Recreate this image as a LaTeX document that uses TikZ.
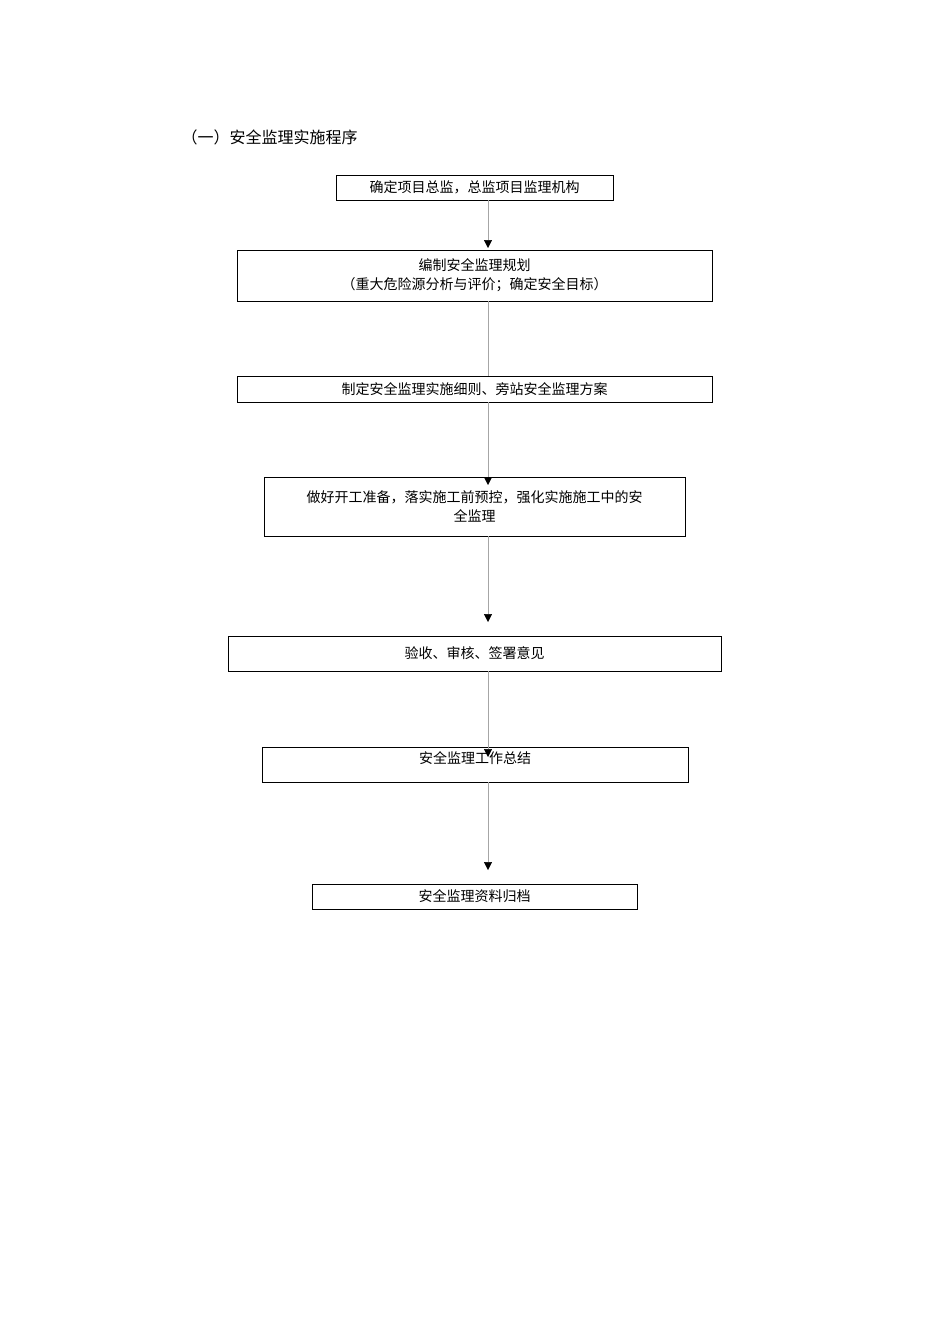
\documentclass[tikz,border=0pt]{standalone}
\usepackage{fontspec}
\setmainfont{Noto Sans CJK SC}
\usetikzlibrary{arrows.meta}
\begin{document}
\begin{tikzpicture}[x=1pt,y=-1pt,
  bx/.style={draw,line width=0.6pt,inner sep=0pt,font=\fontsize{14}{19}\selectfont,align=center},
  conn/.style={draw=gray!70,line width=0.5pt,-{Triangle[black,length=8pt,width=8pt]}},
  plain/.style={draw=gray!70,line width=0.5pt}]
\useasboundingbox (0,0) rectangle (950,1344);
\node[anchor=west,font=\fontsize{16}{19}\selectfont] (title) at (178,137) {（一）安全监理实施程序};
\node[bx,minimum width=277pt,minimum height=25pt] (b1) at (474.5,187.5) {确定项目总监，总监项目监理机构};
\node[bx,minimum width=475pt,minimum height=51pt] (b2) at (474.5,275.5) {编制安全监理规划\\（重大危险源分析与评价；确定安全目标）};
\node[bx,minimum width=475pt,minimum height=26pt] (b3) at (474.5,389) {制定安全监理实施细则、旁站安全监理方案};
\node[bx,minimum width=421pt,minimum height=59pt] (b4) at (474.5,506.5) {做好开工准备，落实施工前预控，强化实施施工中的安\\全监理};
\node[bx,minimum width=493pt,minimum height=35pt] (b5) at (474.5,653.5) {验收、审核、签署意见};
\node[bx,minimum width=426pt,minimum height=35pt,text depth=14pt] (b6) at (475,764.5) {安全监理工作总结};
\node[bx,minimum width=325pt,minimum height=25pt] (b7) at (474.5,896.5) {安全监理资料归档};
\coordinate (s1) at (488,200); \coordinate (e1) at (488,248);
\coordinate (s2) at (488,301); \coordinate (e2) at (488,376);
\coordinate (s3) at (488,402); \coordinate (e3) at (488,485);
\coordinate (s4) at (488,536); \coordinate (e4) at (488,622);
\coordinate (s5) at (488,671); \coordinate (e5) at (488,757);
\coordinate (s6) at (488,782); \coordinate (e6) at (488,870);
\draw[conn] (s1) -- (e1);
\draw[plain] (s2) -- (e2);
\draw[conn] (s3) -- (e3);
\draw[conn] (s4) -- (e4);
\draw[conn] (s5) -- (e5);
\draw[conn] (s6) -- (e6);
\end{tikzpicture}
\end{document}
